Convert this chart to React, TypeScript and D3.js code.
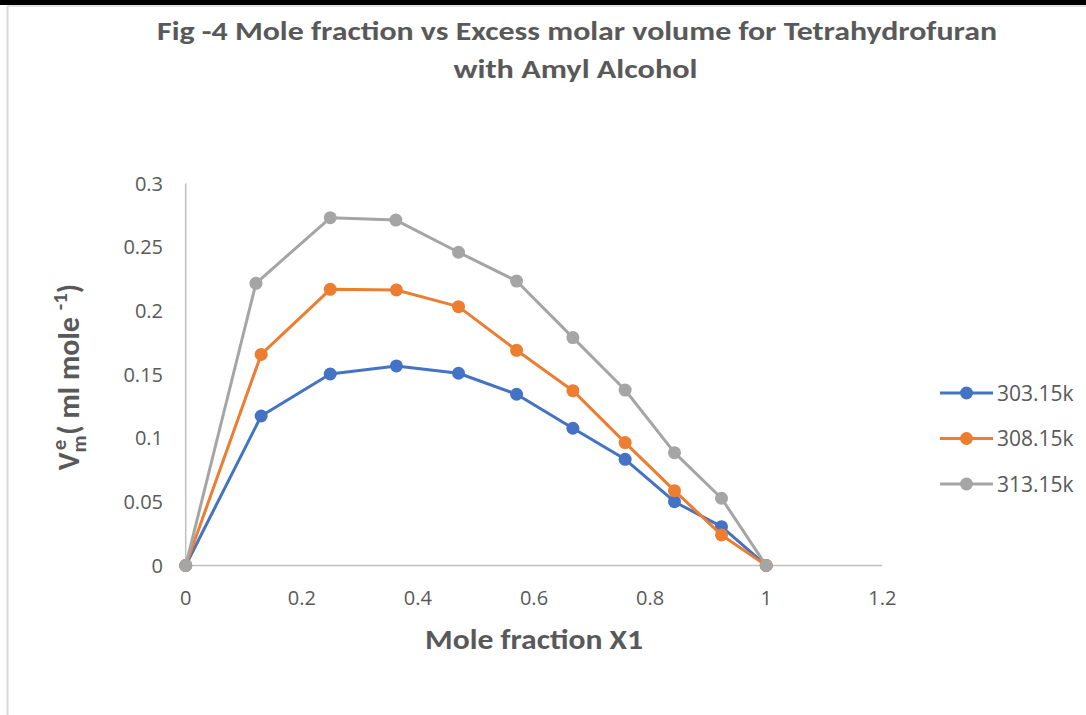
import React from "react";
import * as d3 from "d3";

const xValues = [0, 0.13, 0.249, 0.363, 0.47, 0.57, 0.667, 0.757, 0.842, 0.923, 1];
const xValuesGray = [0, 0.121, 0.249, 0.362, 0.47, 0.57, 0.667, 0.757, 0.842, 0.923, 1];
const s303 = [0, 0.1174, 0.1504, 0.1567, 0.151, 0.1345, 0.1078, 0.0834, 0.0501, 0.0305, 0];
const s308 = [0, 0.1658, 0.2169, 0.2164, 0.2033, 0.169, 0.1373, 0.0965, 0.0588, 0.024, 0];
const s313 = [0, 0.2216, 0.2731, 0.2713, 0.246, 0.2234, 0.179, 0.1378, 0.0886, 0.0528, 0];
const seriesNames = ["303.15k", "308.15k", "313.15k"];
const seriesColors = ["#4472C4", "#ED7D31", "#A5A5A5"];
const xTicks = [0, 0.2, 0.4, 0.6, 0.8, 1, 1.2];
const yTicks = [0, 0.05, 0.1, 0.15, 0.2, 0.25, 0.3];

const W = 1086;
const H = 715;
const FONT_B = "Carlito, Calibri, 'Open Sans', sans-serif";
const FONT = "'Open Sans', 'Noto Sans', sans-serif";
const TXT = "#595959";

export default function App() {
  const x = d3.scaleLinear().domain([0, 1.2]).range([185.7, 882.3]);
  const y = d3.scaleLinear().domain([0, 0.3]).range([565.5, 183.5]);
  const series = [
    { name: seriesNames[0], color: seriesColors[0], xs: xValues, ys: s303 },
    { name: seriesNames[1], color: seriesColors[1], xs: xValues, ys: s308 },
    { name: seriesNames[2], color: seriesColors[2], xs: xValuesGray, ys: s313 },
  ];
  const line = d3
    .line<[number, number]>()
    .x((d) => x(d[0]))
    .y((d) => y(d[1]));

  return (
    <svg
      width={W}
      height={H}
      style={{ position: "absolute", left: 0, top: 0, display: "block", background: "#fff" }}
      fontFamily={FONT}
    >
      <rect x={0} y={0} width={W} height={H} fill="#fff" />
      <rect x={0} y={0} width={W} height={5} fill="#000" />
      <line x1={7} x2={W} y1={6} y2={6} stroke="#D9D9D9" strokeWidth={1.5} />
      <line x1={7.5} x2={7.5} y1={6} y2={H} stroke="#D9D9D9" strokeWidth={2} />

      <text x={577} y={40} textAnchor="middle" fontSize={27} fontWeight="bold" fill={TXT}
        fontFamily={FONT_B} textLength={840} lengthAdjust="spacingAndGlyphs">
        Fig -4 Mole fraction vs Excess molar volume for Tetrahydrofuran
      </text>
      <text x={575.5} y={78} textAnchor="middle" fontSize={27} fontWeight="bold" fill={TXT}
        fontFamily={FONT_B} textLength={244} lengthAdjust="spacingAndGlyphs">
        with Amyl Alcohol
      </text>

      {/* axes */}
      <line x1={x(0)} x2={x(1.2)} y1={y(0)} y2={y(0)} stroke="#BFBFBF" strokeWidth={1.5} />
      <line x1={x(0)} x2={x(0)} y1={y(0)} y2={y(0.3)} stroke="#BFBFBF" strokeWidth={1.5} />

      {xTicks.map((t) => (
        <text key={"x" + t} x={x(t)} y={605} textAnchor="middle" fontSize={20} fill={TXT}>
          {String(t)}
        </text>
      ))}
      {yTicks.map((t) => (
        <text key={"y" + t} x={163} y={y(t) + 7} textAnchor="end" fontSize={20} fill={TXT}>
          {String(t)}
        </text>
      ))}

      <text x={534} y={649} textAnchor="middle" fontSize={28} fontWeight="bold" fill={TXT}
        fontFamily={FONT_B} textLength={218} lengthAdjust="spacingAndGlyphs">
        Mole fraction X1
      </text>

      <g transform="translate(79,377) rotate(-90)">
        <text x={0} y={0} textAnchor="middle" fontSize={30} fontWeight="bold" fill={TXT}
          fontFamily={FONT_B}>
          <tspan>V</tspan>
          <tspan fontSize={21} dy={7}>m</tspan>
          <tspan fontSize={21} dy={-20} dx={-15}>e</tspan>
          <tspan dy={13} dx={5}>( ml mole </tspan>
          <tspan fontSize={21} dy={-12}>-1</tspan>
          <tspan dy={12}>)</tspan>
        </text>
      </g>

      {series.map((s) => {
        const pts: [number, number][] = s.xs.map((v, i) => [v, s.ys[i]]);
        return (
          <g key={s.name}>
            <path d={line(pts) || ""} fill="none" stroke={s.color} strokeWidth={3} strokeLinejoin="round" />
            {pts.map((p, i) => (
              <circle key={i} cx={x(p[0])} cy={y(p[1])} r={6.5} fill={s.color} />
            ))}
          </g>
        );
      })}

      {series.map((s, i) => {
        const ly = 393 + i * 45.5;
        return (
          <g key={"lg" + s.name}>
            <line x1={940} x2={993} y1={ly} y2={ly} stroke={s.color} strokeWidth={3} />
            <circle cx={966.5} cy={ly} r={6.5} fill={s.color} />
            <text x={997} y={ly + 7.5} fontSize={21} fill={TXT}>
              {s.name}
            </text>
          </g>
        );
      })}
    </svg>
  );
}
